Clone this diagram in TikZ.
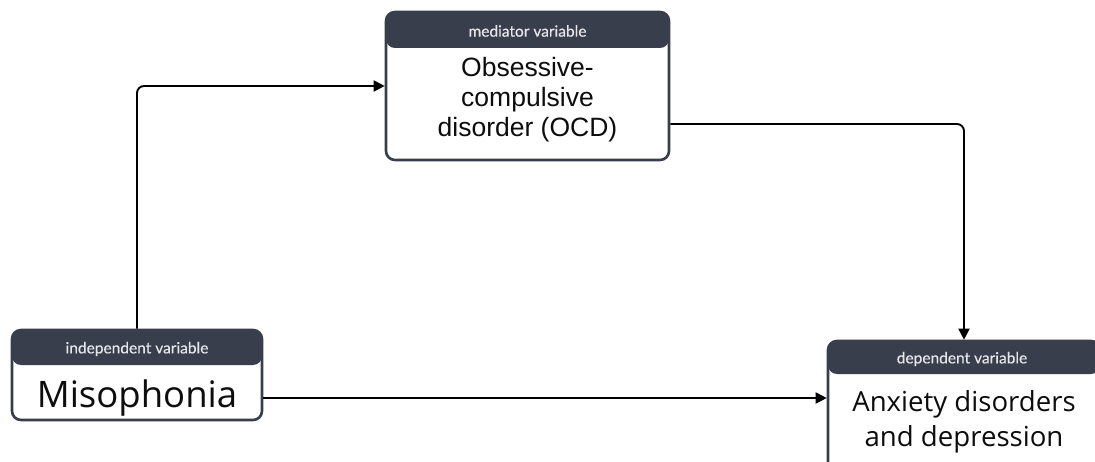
\documentclass[tikz,border=0pt]{standalone}
\usepackage{fontspec}
\setmainfont{Open Sans}
\newfontfamily\hdrfont[FakeBold=0.4]{Lato}
\newfontfamily\medfont{Liberation Sans}
\usetikzlibrary{arrows.meta}
\definecolor{hdr}{HTML}{383E4B}
\definecolor{hdrtext}{HTML}{E6E7EA}
\begin{document}
\begin{tikzpicture}[x=1pt,y=-1pt,
  varbox/.style={draw=hdr, line width=2.6pt, rounded corners=9pt, fill=white, inner sep=0pt},
  hdrfill/.style={path picture={\fill[hdr] (path picture bounding box.north west) rectangle ([yshift=-#1]path picture bounding box.north east);}},
  hdrlabel/.style={text=hdrtext, font=\hdrfont\fontsize{15.5}{17}\selectfont},
  body/.style={text=black!95, align=center},
  conn/.style={line width=1.9pt, black, rounded corners=7pt, -{Triangle[length=11pt,width=11pt]}}
]
\clip (0,0) rectangle (1095,462);
\fill[white] (0,0) rectangle (1095,462);

% boxes
\node[varbox, hdrfill=36pt, minimum width=283pt, minimum height=148pt] (med) at (527.5,86) {};
\node[varbox, hdrfill=35pt, minimum width=250pt, minimum height=90pt] (ind) at (137,375) {};
\node[varbox, hdrfill=33pt, minimum width=272pt, minimum height=140pt] (dep) at (964,411) {};

% header labels
\node[hdrlabel] (medh) at (527.5,31) {mediator variable};
\node[hdrlabel] (indh) at (137,349) {independent variable};
\node[hdrlabel] (deph) at (962,359) {dependent variable};

% body texts
\node[body, font=\medfont\fontsize{26.5}{30}\selectfont] (medt) at (527.5,100) {Obsessive-\\compulsive\\disorder (OCD)};
\node[body, font=\fontsize{36.5}{40}\selectfont] (indt) at (137,398) {Misophonia};
\node[body, font=\fontsize{27.6}{35}\selectfont] (dept) at (964,422) {Anxiety disorders\\and depression};

% connectors
\draw[conn] (ind.north) |- (med.west);
\draw[conn] ([yshift=-38pt]med.east) -| (dep.north);
\draw[conn] ([yshift=-23pt]ind.east) -- ([yshift=13pt]dep.west);
\end{tikzpicture}
\end{document}
